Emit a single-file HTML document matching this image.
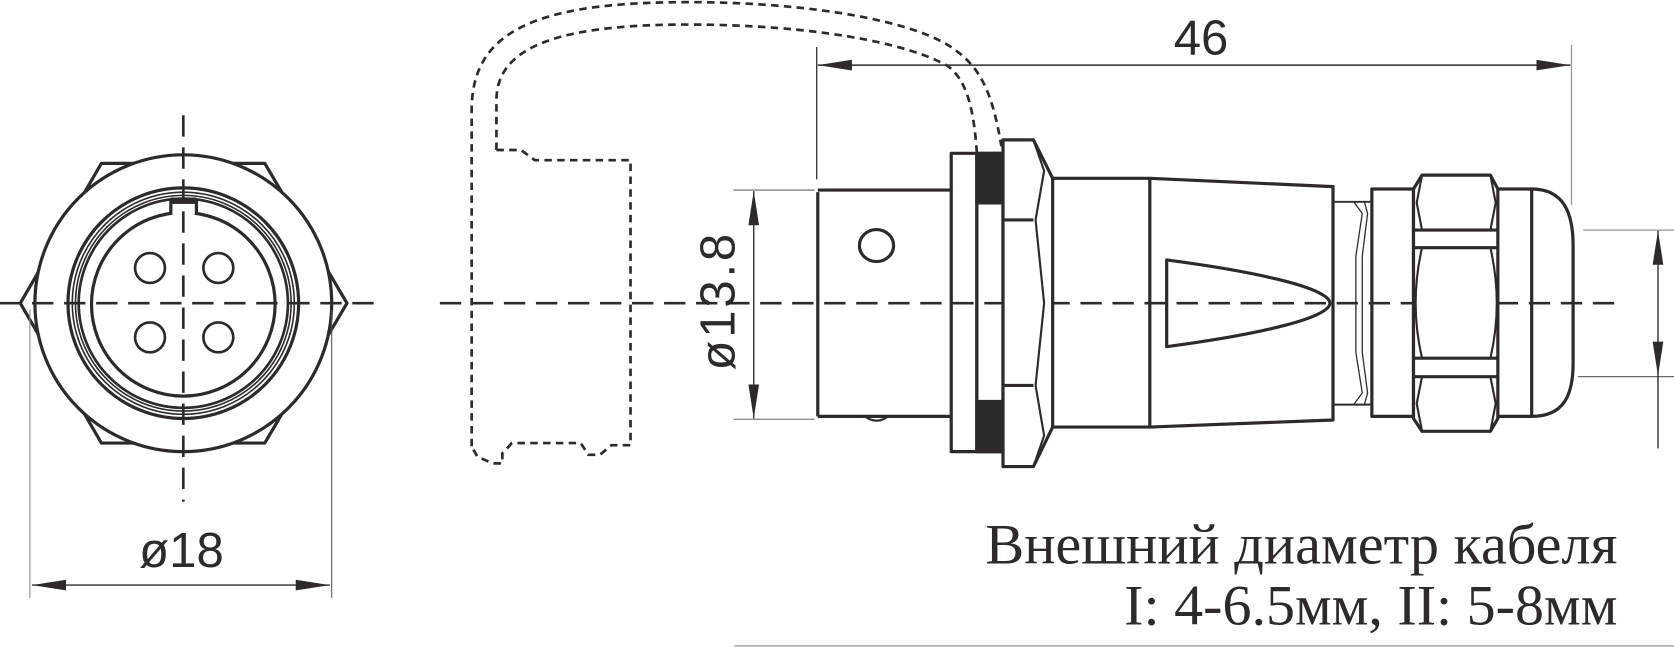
<!DOCTYPE html>
<html><head><meta charset="utf-8"><style>
html,body{margin:0;padding:0;background:#fff;}
svg{display:block}
</style></head><body>
<svg width="1674" height="647" viewBox="0 0 1568 606" preserveAspectRatio="none" xmlns="http://www.w3.org/2000/svg">
<defs>
<marker id="a" markerWidth="34" markerHeight="12" refX="32" refY="5" orient="auto-start-reverse" markerUnits="userSpaceOnUse"><path d="M32,5 L0,0 L0,10 Z" fill="#2f2a2a"/></marker>
</defs>
<g fill="none" stroke="#2f2a2a" stroke-linejoin="round">
<!-- LEFT VIEW -->
<polygon points="95,153 248,153 325,284 248,415 95,415 19,284" stroke-width="3" fill="#fff"/>
<circle cx="171.7" cy="284" r="139" stroke-width="3" fill="#fff"/>
<circle cx="171.7" cy="284" r="108" stroke-width="3"/>
<circle cx="171.7" cy="284" r="104" stroke-width="1.5"/>
<circle cx="171.7" cy="284" r="101" stroke-width="1.5"/>
<circle cx="171.7" cy="284" r="98" stroke-width="2.5"/>
<circle cx="171.7" cy="285" r="86" stroke-width="3" fill="#fff"/>
<path d="M160,201 L160,188 L184,188 L184,201" stroke-width="3" fill="#fff"/>
<rect x="160" y="185" width="24" height="6" fill="#2f2a2a" stroke="none"/>
<circle cx="140.5" cy="251" r="14" stroke-width="2.5"/>
<circle cx="204.5" cy="251" r="14" stroke-width="2.5"/>
<circle cx="140.5" cy="316" r="14" stroke-width="2.5"/>
<circle cx="204.5" cy="316" r="14" stroke-width="2.5"/>
<line x1="0" y1="284" x2="350" y2="284" stroke-width="2.5" stroke-dasharray="20,10"/>
<line x1="171.7" y1="108" x2="171.7" y2="470" stroke-width="2.5" stroke-dasharray="20,10"/>
<line x1="28" y1="290" x2="28" y2="560" stroke-width="1" stroke="#888"/>
<line x1="310.7" y1="290" x2="310.7" y2="560" stroke-width="1" stroke="#555"/>
<line x1="30" y1="548" x2="309" y2="548" stroke-width="1.3" marker-start="url(#a)" marker-end="url(#a)"/>

<!-- CAP (dashed) -->
<g stroke-width="2.5" stroke-dasharray="7,5">
<path d="M441.8,418 L441.8,103 C441.8,30 500,2 644,2 C760,2 860,20 895,47 C920,65 930,90 938,137"/>
<path d="M465,140.5 L465,94 C465,45 520,23 644,23 C760,23 850,40 888,62 C905,75 912,100 915,143"/>
<path d="M465,140.5 L488,140.5 L501,150 L590.6,150 L590.6,417 L572.6,417 L562,426 L551,426 L544,415 L479.5,415 L470.5,424.6 L470.5,434 L461.5,434 L447,427.7 L441.8,418"/>
</g>

<!-- MAIN CONNECTOR -->
<line x1="412" y1="284" x2="1517" y2="284" stroke-width="2.5" stroke-dasharray="20,10"/>
<g stroke-width="3" fill="none">
<path d="M766,178 L891,178 M766,390 L891,390 M766,180 L766,390"/>
<ellipse cx="821" cy="230" rx="16" ry="15"/>
<path d="M810,390 Q821,398 832,390" stroke-width="2"/>
<rect x="891" y="143.6" width="24" height="279.4"/>
<rect x="915" y="143.6" width="24.5" height="279.4"/>
<rect x="915" y="143.6" width="24.5" height="46.4" fill="#2f2a2a"/>
<rect x="915" y="376" width="24.5" height="47" fill="#2f2a2a"/>
<path d="M939.5,131 L968,131 L986,167 L986,400 L968,437 L939.5,437 Z" fill="#fff"/>
<path d="M939.5,206 L968,206 M939.5,361 L968,361"/>
<path d="M968,131 L978,160 L970,206 L978,284 L970,361 L978,408 L968,437" stroke-width="2"/>
<path d="M986,167 L1077,167 L1248.6,174.8 L1248.6,393.4 L1077,400 L986,400"/>
<line x1="1077" y1="167" x2="1077" y2="400"/>
<path d="M1092.8,243.5 C1180,255 1245,270 1245.8,284 C1245,298 1180,313 1092.8,324.7 Z"/>
<rect x="1248.6" y="189" width="36.2" height="190" stroke-width="1.8"/>
<path d="M1268,189 L1276,200 L1270,240 L1270,330 L1276,368 L1268,379 M1278,189 L1281,200 L1276,240 L1276,330 L1281,368 L1278,379" stroke-width="1.2"/>
<rect x="1285" y="177" width="39" height="213"/>
<path d="M1332,164 L1396,164 L1403,177 L1403,392 L1396,404 L1332,404 L1324,392 L1324,177 Z" fill="#fff"/>
<path d="M1324,215.5 L1403,215.5 M1324,232 L1403,232 M1324,335.5 L1403,335.5 M1324,352.8 L1403,352.8"/>
<path d="M1332,164 L1327,190 L1332,215.5 M1396,164 L1401,190 L1396,215.5 M1332,232 Q1320,284 1332,335.5 M1396,232 Q1408,284 1396,335.5 M1332,352.8 L1327,378 L1332,404 M1396,352.8 L1401,378 L1396,404" stroke-width="2"/>
<path d="M1403,177 L1434.7,177 C1465,177 1473.5,200 1473.5,230 L1473.5,340 C1473.5,370 1465,390 1434.7,390 L1403,390"/>
<line x1="1434.7" y1="177" x2="1434.7" y2="390"/>
</g>

<!-- DIMENSIONS -->
<line x1="765" y1="44" x2="765" y2="168" stroke-width="1.2"/>
<line x1="1472" y1="42" x2="1472" y2="192" stroke-width="1.2" stroke="#999"/>
<line x1="766" y1="61" x2="1471" y2="61" stroke-width="1.3" marker-start="url(#a)" marker-end="url(#a)"/>
<line x1="687" y1="178" x2="763" y2="178" stroke-width="1" stroke="#666"/>
<line x1="687" y1="392.7" x2="763" y2="392.7" stroke-width="1" stroke="#666"/>
<line x1="706" y1="179" x2="706" y2="392" stroke-width="1.3" marker-start="url(#a)" marker-end="url(#a)"/>
<line x1="1483" y1="215.5" x2="1568" y2="215.5" stroke-width="1" stroke="#888"/>
<line x1="1478" y1="352.8" x2="1568" y2="352.8" stroke-width="1" stroke="#555"/>
<line x1="1553" y1="216" x2="1553" y2="352" stroke-width="1.3" marker-start="url(#a)" marker-end="url(#a)"/>
<line x1="1553" y1="352" x2="1553" y2="420" stroke-width="1.3"/>
<line x1="688" y1="605" x2="1568" y2="605" stroke-width="1.2" stroke="#999"/>
</g>
<g fill="#2f2a2a" font-family="'Liberation Sans', sans-serif">
<text x="1125" y="51" font-size="46" text-anchor="middle">46</text>
<text x="170" y="531" font-size="46" text-anchor="middle">ø18</text>
<text transform="translate(688,283) rotate(-90)" font-size="46" text-anchor="middle" textLength="128" lengthAdjust="spacing">ø13.8</text>
</g>
<g fill="#2f2a2a" font-family="'Liberation Serif', serif" font-size="54">
<text x="923" y="528" textLength="592" lengthAdjust="spacingAndGlyphs">Внешний диаметр кабеля</text>
<text x="1053" y="585" textLength="462" lengthAdjust="spacingAndGlyphs">I: 4-6.5мм, II: 5-8мм</text>
</g>
</svg>
</body></html>
